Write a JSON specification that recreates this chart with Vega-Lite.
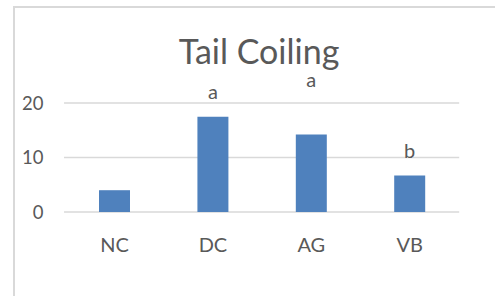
{
  "$schema": "https://vega.github.io/schema/vega-lite/v6.json",
  "autosize": {"type": "none"},
  "padding": {"left": 14, "top": 7, "right": 0, "bottom": 0},
  "width": 490,
  "height": 300,
  "background": "white",
  "view": {"stroke": "#d9d9d9", "strokeWidth": 2, "fill": "white"},
  "config": {"font": "Lato"},
  "title": {
    "text": "Tail Coiling",
    "fontSize": 34,
    "font": "Lato",
    "fontWeight": "normal",
    "color": "#595959",
    "anchor": "middle",
    "baseline": "alphabetic",
    "offset": -91
  },
  "datasets": {
    "bars": [
      {"group": "NC", "value": 4.0, "letter": "", "letter_y": 0},
      {"group": "DC", "value": 17.5, "letter": "a", "letter_y": 20.7},
      {"group": "AG", "value": 14.2, "letter": "a", "letter_y": 23.0},
      {"group": "VB", "value": 6.7, "letter": "b", "letter_y": 10.0}
    ],
    "grid": [{"tick": 0}, {"tick": 10}, {"tick": 20}]
  },
  "layer": [
    {
      "data": {"name": "grid"},
      "mark": {"type": "rule", "color": "#d9d9d9", "strokeWidth": 1.5, "xOffset": -50.5, "x2Offset": 49.5},
      "encoding": {
        "x": {"datum": "NC", "type": "nominal"},
        "x2": {"datum": "VB"},
        "y": {"field": "tick", "type": "quantitative"}
      }
    },
    {
      "data": {"name": "bars"},
      "mark": {"type": "bar", "color": "#4f81bd"},
      "encoding": {
        "x": {
          "field": "group",
          "type": "nominal",
          "sort": null,
          "scale": {"type": "band", "domain": ["NC", "DC", "AG", "VB"], "paddingInner": 0.685, "paddingOuter": 0.8325, "align": 0.519},
          "axis": {
            "title": null,
            "orient": "bottom",
            "offset": -56,
            "domain": false,
            "ticks": false,
            "tickSize": 0,
            "labelPadding": 0,
            "labelAlign": "center",
            "labelBaseline": "alphabetic",
            "labelAngle": 0,
            "labelFontSize": 20,
            "labelFont": "Lato",
            "labelColor": "#595959"
          }
        },
        "y": {
          "field": "value",
          "type": "quantitative",
          "scale": {"domain": [-17.431, 37.615], "nice": false, "zero": false},
          "axis": {
            "title": null,
            "values": [0, 10, 20],
            "grid": false,
            "domain": false,
            "ticks": false,
            "tickSize": 0,
            "labelPadding": 4,
            "offset": -33,
            "labelFontSize": 18.5,
            "labelFont": "Lato",
            "labelColor": "#595959"
          }
        },
        "y2": {"datum": 0}
      }
    },
    {
      "data": {"name": "bars"},
      "transform": [{"filter": "datum.letter != ''"}],
      "mark": {"type": "text", "baseline": "alphabetic", "align": "center", "fontSize": 20, "font": "Lato", "color": "#595959"},
      "encoding": {
        "x": {"field": "group", "type": "nominal"},
        "y": {"field": "letter_y", "type": "quantitative"},
        "text": {"field": "letter"}
      }
    }
  ]
}
